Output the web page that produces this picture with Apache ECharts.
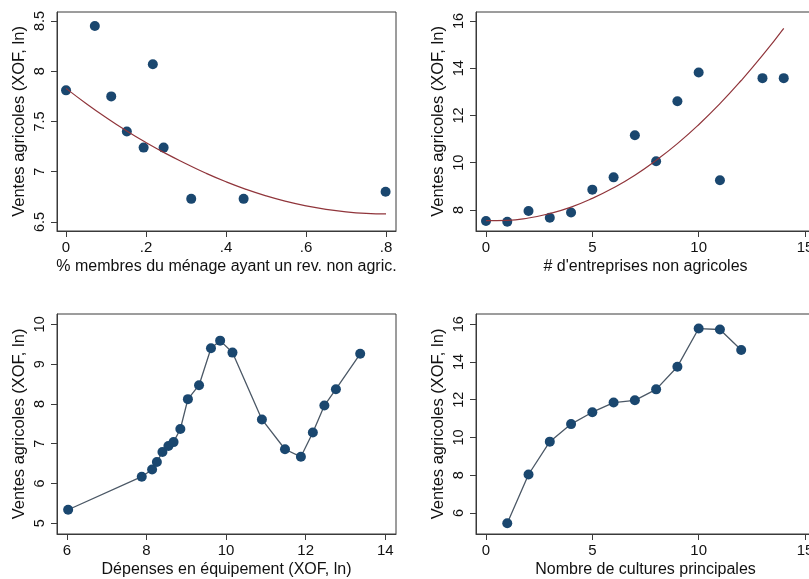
<!DOCTYPE html>
<html>
<head>
<meta charset="utf-8">
<script src="https://cdn.jsdelivr.net/npm/echarts@6/dist/echarts.min.js"></script>
<style>
html,body{margin:0;padding:0;background:#fff;overflow:hidden;width:809px;height:579px;}
#c{width:830px;height:579px;}
</style>
</head>
<body>
<div id="c"></div>
<script>
// Panel 1: share of household members with non-farm income
const p1X = [0, 0.072, 0.113, 0.152, 0.194, 0.217, 0.244, 0.313, 0.444, 0.799];
const p1Y = [7.81, 8.45, 7.75, 7.40, 7.24, 8.07, 7.24, 6.73, 6.73, 6.80];
const p1FitX = [0, 0.05, 0.1, 0.15, 0.2, 0.25, 0.3, 0.35, 0.4, 0.45, 0.5, 0.55, 0.6, 0.65, 0.7, 0.75, 0.8];
const p1FitY = [7.83, 7.68, 7.54, 7.41, 7.29, 7.18, 7.08, 6.985, 6.90, 6.825, 6.76, 6.705, 6.66, 6.625, 6.60, 6.585, 6.58];
const p1XTicks = [0, 0.2, 0.4, 0.6, 0.8];
const p1YTicks = [6.5, 7, 7.5, 8, 8.5];

// Panel 2: number of non-farm enterprises
const p2X = [0, 1, 2, 3, 4, 5, 6, 7, 8, 9, 10, 11, 13, 14];
const p2Y = [7.53, 7.50, 7.96, 7.67, 7.89, 8.86, 9.38, 11.16, 10.06, 12.60, 13.82, 9.26, 13.58, 13.58];
const p2FitX = [0, 1, 2, 3, 4, 5, 6, 7, 8, 9, 10, 11, 12, 13, 14];
const p2FitY = [7.55, 7.56, 7.66, 7.85, 8.12, 8.49, 8.94, 9.47, 10.10, 10.81, 11.61, 12.50, 13.48, 14.54, 15.69];
const p2XTicks = [0, 5, 10, 15];
const p2YTicks = [8, 10, 12, 14, 16];

// Panel 3: equipment spending
const p3X = [6.03, 7.88, 8.14, 8.26, 8.40, 8.55, 8.68, 8.85, 9.04, 9.32, 9.62, 9.85, 10.16, 10.90, 11.48, 11.88, 12.18, 12.47, 12.76, 13.37];
const p3Y = [5.34, 6.17, 6.35, 6.54, 6.79, 6.94, 7.04, 7.37, 8.12, 8.47, 9.40, 9.59, 9.29, 7.61, 6.86, 6.67, 7.28, 7.96, 8.37, 9.26];
const p3XTicks = [6, 8, 10, 12, 14];
const p3YTicks = [5, 6, 7, 8, 9, 10];

// Panel 4: number of main crops
const p4X = [1, 2, 3, 4, 5, 6, 7, 8, 9, 10, 11, 12];
const p4Y = [5.46, 8.04, 9.78, 10.71, 11.34, 11.85, 11.97, 12.55, 13.75, 15.77, 15.72, 14.63];
const p4XTicks = [0, 5, 10, 15];
const p4YTicks = [6, 8, 10, 12, 14, 16];

const yTitle = 'Ventes agricoles (XOF, ln)';
const xTitles = ['% membres du ménage ayant un rev. non agric.', "# d'entreprises non agricoles", 'Dépenses en équipement (XOF, ln)', 'Nombre de cultures principales'];

const FONT = 'Liberation Sans, Arial, sans-serif';
const AX = '#3a3a3a';
const NAVY = '#1a476f';
const MAROON = '#90353b';
const LINE = '#4b5866';

function zip(a, b) { return a.map((v, i) => [v, b[i]]); }
function stataFmt(v) {
  let s = String(+v.toFixed(4));
  if (s.startsWith('0.')) s = s.slice(1);
  return s;
}

const grids = [
  {left: 57, top: 12, width: 339, height: 219},
  {left: 476, top: 12, width: 339, height: 219},
  {left: 57, top: 314, width: 339, height: 221},
  {left: 476, top: 314, width: 339, height: 221}
];
const xr = [[-0.0226, 0.825], [-0.47, 15.47], [5.75, 14.27], [-0.47, 15.47]];
const yr = [[6.41, 8.59], [7.11, 16.38], [4.73, 10.26], [4.89, 16.54]];
const xt = [p1XTicks, p2XTicks, p3XTicks, p4XTicks];
const yt = [p1YTicks, p2YTicks, p3YTicks, p4YTicks];

const option = {
  backgroundColor: '#fff',
  animation: false,
  grid: grids.map(g => Object.assign({show: true, borderColor: AX, borderWidth: 1, backgroundColor: '#fff', containLabel: false}, g)),
  xAxis: grids.map((g, i) => ({
    type: 'value', gridIndex: i, min: xr[i][0], max: xr[i][1],
    name: xTitles[i], nameLocation: 'middle', nameGap: 28,
    nameTextStyle: {fontFamily: FONT, fontSize: 16, color: '#111'},
    axisLine: {show: true, onZero: false, lineStyle: {color: AX, width: 1}},
    axisTick: {show: true, length: 6, lineStyle: {color: AX}, customValues: xt[i]},
    axisLabel: {fontFamily: FONT, fontSize: 15, color: '#111', margin: 9, customValues: xt[i], formatter: stataFmt},
    splitLine: {show: false}
  })),
  yAxis: grids.map((g, i) => ({
    type: 'value', gridIndex: i, min: yr[i][0], max: yr[i][1],
    name: yTitle, nameLocation: 'middle', nameGap: 29,
    nameTextStyle: {fontFamily: FONT, fontSize: 16.5, color: '#111'},
    axisLine: {show: true, onZero: false, lineStyle: {color: AX, width: 1}},
    axisTick: {show: true, length: 6, lineStyle: {color: AX}, customValues: yt[i]},
    axisLabel: {fontFamily: FONT, fontSize: 14.5, color: '#111', margin: 10, rotate: 90, customValues: yt[i], formatter: stataFmt},
    splitLine: {show: false}
  })),
  series: [
    {type: 'scatter', xAxisIndex: 0, yAxisIndex: 0, data: zip(p1X, p1Y), symbolSize: 10, itemStyle: {color: NAVY, opacity: 1}, z: 2},
    {type: 'line', xAxisIndex: 0, yAxisIndex: 0, data: zip(p1FitX, p1FitY), smooth: true, showSymbol: false, lineStyle: {color: MAROON, width: 1.2}, z: 3},
    {type: 'scatter', xAxisIndex: 1, yAxisIndex: 1, data: zip(p2X, p2Y), symbolSize: 10, itemStyle: {color: NAVY, opacity: 1}, z: 2},
    {type: 'line', xAxisIndex: 1, yAxisIndex: 1, data: zip(p2FitX, p2FitY), smooth: true, showSymbol: false, lineStyle: {color: MAROON, width: 1.2}, z: 3},
    {type: 'line', xAxisIndex: 2, yAxisIndex: 2, data: zip(p3X, p3Y), symbol: 'circle', symbolSize: 10, showAllSymbol: true,
      itemStyle: {color: NAVY, opacity: 1}, lineStyle: {color: LINE, width: 1.3}},
    {type: 'line', xAxisIndex: 3, yAxisIndex: 3, data: zip(p4X, p4Y), symbol: 'circle', symbolSize: 10, showAllSymbol: true,
      itemStyle: {color: NAVY, opacity: 1}, lineStyle: {color: LINE, width: 1.3}}
  ]
};

const chart = echarts.init(document.getElementById('c'), null, {renderer: 'canvas'});
chart.setOption(option);
</script>
</body>
</html>
